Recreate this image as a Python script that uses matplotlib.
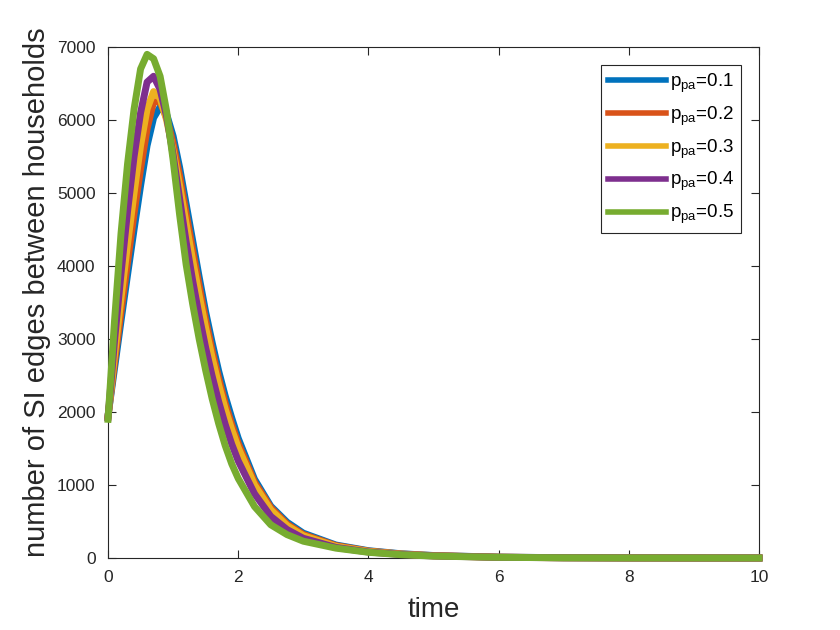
import matplotlib
matplotlib.use('Agg')
import matplotlib.pyplot as plt

plt.rcParams['font.family'] = ['Liberation Sans', 'DejaVu Sans']
plt.rcParams['mathtext.default'] = 'regular'

# Время (неравномерная сетка)
time = [0, 0.1, 0.2, 0.3, 0.4, 0.5, 0.6, 0.7, 0.8, 0.9, 1.0,
        1.1, 1.2, 1.3, 1.4, 1.5, 1.6, 1.7, 1.8, 1.9, 2.0,
        2.25, 2.5, 2.75, 3.0, 3.5, 4.0, 4.5, 5.0, 6, 7, 8, 9, 10]

si_01 = [1950, 2600, 3250, 3880, 4500, 5100, 5650, 6030, 6180, 6080, 5780,
         5350, 4850, 4350, 3850, 3370, 2950, 2560, 2220, 1920, 1640,
         1080, 710, 490, 340, 178, 100, 58, 34, 12, 4, 1.5, 0.5, 0.2]
si_02 = [1940, 2680, 3380, 4050, 4720, 5330, 5880, 6250, 6250, 6030, 5680,
         5230, 4720, 4220, 3730, 3260, 2840, 2460, 2120, 1830, 1570,
         1040, 690, 465, 322, 170, 95, 55, 32, 11, 4, 1.4, 0.5, 0.2]
si_03 = [1930, 2780, 3560, 4300, 5000, 5650, 6150, 6390, 6300, 6000, 5580,
         5100, 4580, 4080, 3600, 3150, 2740, 2370, 2040, 1760, 1510,
         1000, 660, 445, 305, 160, 90, 52, 30, 10, 3.5, 1.2, 0.4, 0.15]
si_04 = [1920, 2980, 3900, 4750, 5500, 6100, 6520, 6600, 6420, 6050, 5520,
         4920, 4330, 3800, 3320, 2880, 2490, 2140, 1830, 1560, 1330,
         880, 570, 390, 270, 145, 82, 48, 28, 9.5, 3.2, 1.1, 0.4, 0.15]
si_05 = [1900, 3250, 4450, 5400, 6150, 6700, 6900, 6840, 6600, 6120, 5450,
         4700, 4020, 3480, 3000, 2570, 2180, 1840, 1540, 1290, 1090,
         705, 455, 320, 230, 135, 78, 45, 26, 9, 3, 1, 0.4, 0.1]

series = [si_01, si_02, si_03, si_04, si_05]
p_values = ['0.1', '0.2', '0.3', '0.4', '0.5']
colors = ['#0072BD', '#D95319', '#EDB120', '#7E2F8E', '#77AC30']

fig = plt.figure(figsize=(8.4, 6.3), dpi=100)
ax = fig.add_axes([0.1286, 0.1143, 0.775, 0.811])

for values, p, c in zip(series, p_values, colors):
    ax.plot(time, values, color=c, linewidth=5, label='p$_{pa}$=' + p,
            clip_on=False, zorder=3)

ax.set_xlim(0, 10)
ax.set_ylim(0, 7000)
ax.set_xticks([0, 2, 4, 6, 8, 10])
ax.set_yticks(range(0, 7001, 1000))
ax.tick_params(direction='in', length=6, width=0.8, top=True, right=True,
               labelsize=12.5, colors='#262626', pad=9)
for s in ax.spines.values():
    s.set_color('#262626')
    s.set_linewidth(0.8)

ax.set_xlabel('time', fontsize=20, color='#262626', labelpad=8)
ax.set_ylabel('number of SI edges between households', fontsize=21,
              color='#262626')
ax.yaxis.set_label_coords(-0.088, 0.52)

leg = ax.legend(loc='upper right', fontsize=13.5, handlelength=3.1,
                borderaxespad=0.95, fancybox=False, framealpha=1,
                edgecolor='#262626', labelspacing=0.52, handletextpad=0.25,
                borderpad=0.35)
leg.get_frame().set_linewidth(0.8)
for line in leg.get_lines():
    line.set_linewidth(4)

fig.savefig('out.png', dpi=100)
